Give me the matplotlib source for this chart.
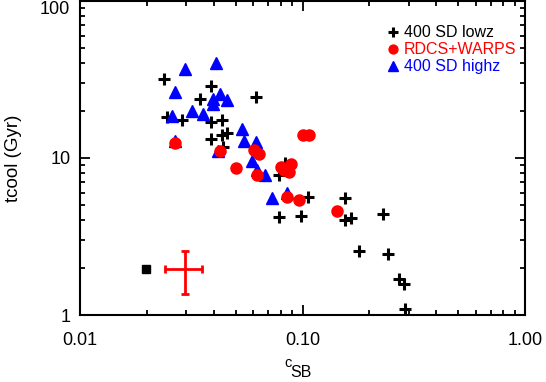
import matplotlib
matplotlib.use("Agg")
import matplotlib.pyplot as plt
from matplotlib.ticker import LogLocator, FixedLocator, FixedFormatter, NullFormatter

plt.rcParams['font.family'] = ['Liberation Sans', 'DejaVu Sans']

# 400 SD lowz
lowz_csb = [0.0239, 0.0388, 0.0347, 0.0616, 0.0245, 0.0288, 0.0388, 0.0436, 0.0456,
            0.0436, 0.0388, 0.0441, 0.0832, 0.0784, 0.106, 0.0784, 0.0982, 0.155,
            0.155, 0.166, 0.231, 0.179, 0.242, 0.272, 0.286, 0.288]
lowz_tcool = [31.7, 28.7, 23.6, 24.5, 18.2, 17.5, 16.96, 17.5, 14.5,
              14.1, 13.2, 11.7, 9.34, 7.79, 5.68, 4.19, 4.30, 5.60,
              4.03, 4.13, 4.43, 2.57, 2.46, 1.69, 1.57, 1.087]

# RDCS+WARPS
rdcs_csb = [0.0267, 0.0428, 0.0605, 0.0638, 0.0505, 0.0627, 0.0798, 0.0826, 0.0888,
            0.087, 0.1002, 0.1073, 0.0855, 0.0964, 0.143]
rdcs_tcool = [12.55, 11.08, 11.25, 10.53, 8.60, 7.79, 8.80, 8.39, 9.16,
              8.11, 14.1, 14.1, 5.62, 5.40, 4.63]

# 400 SD highz
highz_csb = [0.0297, 0.0407, 0.0267, 0.0427, 0.0396, 0.0396, 0.0456, 0.0318, 0.0357,
             0.0258, 0.0416, 0.0536, 0.0546, 0.0618, 0.0595, 0.0627, 0.0678, 0.0727,
             0.0849, 0.0267]
highz_tcool = [36.9, 40.5, 26.4, 25.5, 23.6, 22.2, 23.4, 20.0, 19.0,
               18.6, 11.16, 15.2, 12.9, 12.7, 9.61, 8.39, 7.79, 5.54,
               5.96, 12.9]

# typical error bar
err_x, err_y = 0.0296, 1.96
err_xlo, err_xhi = 0.0055, 0.0059
err_ylo, err_yhi = 0.59, 0.61
# black reference point
ref_x, ref_y = 0.0198, 1.96

x_ticks = [0.01, 0.1, 1.0]
x_ticklabels = ['0.01', '0.10', '1.00']
y_ticks = [1, 10, 100]
y_ticklabels = ['1', '10', '100']

W, H = 546, 382
fig = plt.figure(figsize=(W / 100, H / 100), dpi=100)
ax = fig.add_axes([80 / W, 67 / H, 445 / W, 314 / H])
ax.set_xscale('log')
ax.set_yscale('log')
ax.set_xlim(0.01, 1.0)
ax.set_ylim(1, 100)

ax.plot(lowz_csb, lowz_tcool, ls='none', marker='+', ms=9, mew=2.2, color='black',
        label='400 SD lowz', zorder=3)
ax.plot(highz_csb, highz_tcool, ls='none', marker='^', ms=8.5, color='blue', mec='blue',
        label='400 SD highz', zorder=4)
ax.plot(rdcs_csb, rdcs_tcool, ls='none', marker='o', ms=8, color='red', mec='red',
        label='RDCS+WARPS', zorder=5)

ax.errorbar([err_x], [err_y], xerr=[[err_xlo], [err_xhi]], yerr=[[err_ylo], [err_yhi]],
            fmt='none', ecolor='red', elinewidth=2, capsize=2.7, capthick=2, zorder=6)
ax.plot([ref_x], [ref_y], ls='none', marker='s', ms=6, color='black', zorder=6)

ax.xaxis.set_major_locator(FixedLocator(x_ticks))
ax.xaxis.set_major_formatter(FixedFormatter(x_ticklabels))
ax.yaxis.set_major_locator(FixedLocator(y_ticks))
ax.yaxis.set_major_formatter(FixedFormatter(y_ticklabels))
ax.xaxis.set_minor_locator(LogLocator(base=10, subs=range(2, 10)))
ax.yaxis.set_minor_locator(LogLocator(base=10, subs=range(2, 10)))
ax.xaxis.set_minor_formatter(NullFormatter())
ax.yaxis.set_minor_formatter(NullFormatter())

ax.tick_params(which='both', direction='in', top=True, right=True, width=1.3, colors='black')
ax.tick_params(which='major', length=7, labelsize=13)
ax.tick_params(which='minor', length=3.5)
ax.tick_params(axis='x', which='major', pad=12)
ax.tick_params(axis='y', which='major', pad=7)
for sp in ax.spines.values():
    sp.set_linewidth(1.5)

# keep the top y label inside the figure
ax.yaxis.get_major_ticks()[2].label1.set_verticalalignment('top')

# x label: c with subscript SB
fig.text(284 / W, 1 - 367 / H, 'c', fontsize=10.5, ha='left', va='baseline')
fig.text(290.5 / W, 1 - 377 / H, 'SB', fontsize=11.5, ha='left', va='baseline')

ax.set_ylabel('tcool (Gyr)', fontsize=13.5)
ax.yaxis.set_label_coords(-0.13, 0.5)

handles, labels = ax.get_legend_handles_labels()
order = [0, 2, 1]
leg = ax.legend([handles[i] for i in order], [labels[i] for i in order],
                loc='upper left', bbox_to_anchor=(0.69, 0.922), frameon=False,
                handlelength=0.7, handletextpad=0.35, labelspacing=0.12,
                borderpad=0, borderaxespad=0, fontsize=11.5,
                labelcolor=['black', 'red', 'blue'], markerscale=0.8)

fig.savefig('out.png', dpi=100)
